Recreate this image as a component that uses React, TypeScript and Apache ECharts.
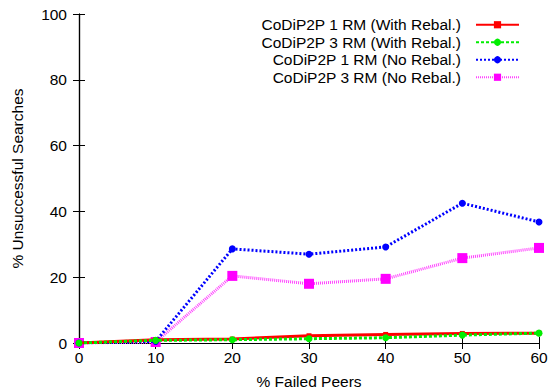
import React, { useEffect, useRef } from "react";
import * as echarts from "echarts";

const xValues = [0, 10, 20, 30, 40, 50, 60];
const seriesNames = [
  "CoDiP2P 1 RM (With Rebal.)",
  "CoDiP2P 3 RM (With Rebal.)",
  "CoDiP2P 1 RM (No Rebal.)",
  "CoDiP2P 3 RM (No Rebal.)",
];
const rm1WithRebal = [0, 1.0, 1.2, 2.2, 2.6, 2.9, 3.0];
const rm3WithRebal = [0, 0.8, 1.0, 1.3, 1.6, 2.4, 3.0];
const rm1NoRebal = [0, 0.5, 28.6, 27.0, 29.2, 42.5, 36.8];
const rm3NoRebal = [0, 0.3, 20.4, 18.0, 19.5, 25.8, 28.9];
const xAxisName = "% Failed Peers";
const yAxisName = "% Unsuccessful Searches";

const FONT = "Liberation Sans, Arial, Helvetica, sans-serif";
const FS = 15.5;

export default function App() {
  const ref = useRef<HTMLDivElement>(null);
  useEffect(() => {
    if (!ref.current) return;
    const chart = echarts.init(ref.current, undefined, { renderer: "svg" });
    const pair = (arr: number[]) => xValues.map((x, i) => [x, arr[i]]);
    const tickStyle = { show: true, inside: true, length: 6, lineStyle: { color: "#000", width: 1 } };
    const lineAx = { show: true, lineStyle: { color: "#000", width: 1.2 } };
    chart.setOption({
      animation: false,
      backgroundColor: "#fff",
      textStyle: { fontFamily: FONT },
      grid: {
        left: 79,
        right: 12,
        top: 14,
        bottom: 48,
        containLabel: false,
        outerBoundsMode: "none",
      },
      legend: {
        show: true,
        right: 26,
        top: 11,
        orient: "vertical",
        align: "right",
        itemWidth: 43,
        itemHeight: 9,
        itemGap: 0,
        textStyle: {
          fontFamily: FONT,
          fontSize: FS,
          color: "#000",
          lineHeight: 17.5,
          padding: [0, 10, 0, 0],
        },
        data: seriesNames,
      },
      xAxis: [
        {
          type: "value",
          min: 0,
          max: 60,
          interval: 10,
          position: "bottom",
          axisLine: lineAx,
          axisTick: tickStyle,
          splitLine: { show: false },
          axisLabel: { color: "#000", fontSize: FS, fontFamily: FONT, margin: 6 },
          name: xAxisName,
          nameLocation: "middle",
          nameGap: 30,
          nameTextStyle: { color: "#000", fontSize: FS, fontFamily: FONT },
        },
        {
          type: "value",
          min: 0,
          max: 60,
          interval: 10,
          position: "top",
          axisLine: lineAx,
          axisTick: tickStyle,
          splitLine: { show: false },
          axisLabel: { show: false },
        },
      ],
      yAxis: [
        {
          type: "value",
          min: 0,
          max: 100,
          interval: 20,
          position: "left",
          axisLine: lineAx,
          axisTick: tickStyle,
          splitLine: { show: false },
          axisLabel: { color: "#000", fontSize: FS, fontFamily: FONT, margin: 12 },
          name: yAxisName,
          nameLocation: "middle",
          nameGap: 54,
          nameTextStyle: { color: "#000", fontSize: FS, fontFamily: FONT },
        },
        {
          type: "value",
          min: 0,
          max: 100,
          interval: 20,
          position: "right",
          axisLine: lineAx,
          axisTick: tickStyle,
          splitLine: { show: false },
          axisLabel: { show: false },
        },
      ],
      series: [
        {
          name: seriesNames[0],
          type: "line",
          data: pair(rm1WithRebal),
          symbol: "rect",
          symbolSize: 5,
          color: "#ff0000",
          lineStyle: { color: "#ff0000", width: 3, type: "solid" },
          itemStyle: { color: "#ff0000" },
          z: 4,
        },
        {
          name: seriesNames[1],
          type: "line",
          data: pair(rm3WithRebal),
          symbol: "circle",
          symbolSize: 7,
          color: "#00ee00",
          lineStyle: { color: "#00ee00", width: 3, type: [3, 2] },
          itemStyle: { color: "#00ee00" },
          z: 5,
        },
        {
          name: seriesNames[2],
          type: "line",
          data: pair(rm1NoRebal),
          symbol: "circle",
          symbolSize: 7,
          color: "#0000ff",
          lineStyle: { color: "#0000ff", width: 3, type: [2, 2] },
          itemStyle: { color: "#0000ff" },
          z: 3,
        },
        {
          name: seriesNames[3],
          type: "line",
          data: pair(rm3NoRebal),
          symbol: "rect",
          symbolSize: 10,
          color: "#ff00ff",
          lineStyle: { color: "#ff44ff", width: 3, type: [1, 1] },
          itemStyle: { color: "#ff00ff" },
          z: 2,
        },
      ],
    });
    return () => chart.dispose();
  }, []);
  return <div ref={ref} style={{ width: 551, height: 391, position: "absolute", left: 0, top: 0 }} />;
}
